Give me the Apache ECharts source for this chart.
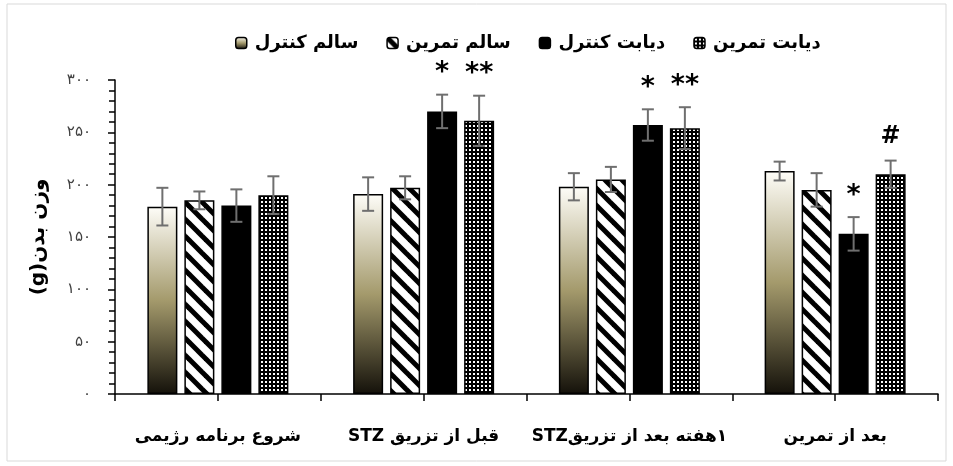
<!DOCTYPE html>
<html>
<head>
<meta charset="utf-8">
<script src="https://cdn.jsdelivr.net/npm/echarts@6/dist/echarts.min.js"></script>
<style>
  html, body { margin: 0; padding: 0; background: #fff; }
  #chart { width: 953px; height: 466px; }
</style>
</head>
<body>
<div id="chart" dir="rtl"></div>
<script>
// Body weight (g) of the four groups at each stage of the study
const categories = ['شروع برنامه رژیمی', 'قبل از تزریق STZ', '۱هفته بعد از تزریقSTZ', 'بعد از تمرین'];
const seriesNames = ['سالم کنترل', 'سالم تمرین', 'دیابت کنترل', 'دیابت تمرین'];

const healthyControl = [179, 191, 198, 213];
const healthyControlErr = [18, 16, 13, 9];
const healthyTraining = [185, 197, 205, 195];
const healthyTrainingErr = [8.5, 11, 12, 16];
const diabetesControl = [180, 270, 257, 153];
const diabetesControlErr = [15.5, 16, 15, 16];
const diabetesTraining = [190, 261, 254, 210];
const diabetesTrainingErr = [18, 24, 20, 13];

// significance marks drawn above each bar's error bar
const healthyControlMarks = ['', '', '', ''];
const healthyTrainingMarks = ['', '', '', ''];
const diabetesControlMarks = ['', '*', '*', '*'];
const diabetesTrainingMarks = ['', '**', '**', '#'];

const yTicks = ['۰', '۵۰', '۱۰۰', '۱۵۰', '۲۰۰', '۲۵۰', '۳۰۰'];

// ---- fills ----
function stripePattern() {
  const s = 17;
  const c = document.createElement('canvas');
  c.width = s; c.height = s;
  const g = c.getContext('2d');
  g.fillStyle = '#fff';
  g.fillRect(0, 0, s, s);
  g.strokeStyle = '#000';
  g.lineWidth = 5;
  for (let k = -1; k <= 1; k++) {
    g.beginPath();
    g.moveTo(-s + k * s, -s);
    g.lineTo(2 * s + k * s, 2 * s);
    g.stroke();
  }
  return c;
}
function dotPattern() {
  const c = document.createElement('canvas');
  c.width = 4; c.height = 4;
  const g = c.getContext('2d');
  g.fillStyle = '#000';
  g.fillRect(0, 0, 4, 4);
  g.fillStyle = '#fff';
  g.fillRect(1, 1, 2, 2);
  return c;
}
const fills = [
  new echarts.graphic.LinearGradient(0, 0, 0, 1, [
    { offset: 0, color: '#fefdf8' },
    { offset: 0.5, color: '#a49a6c' },
    { offset: 1, color: '#14110a' }
  ]),
  { image: stripePattern(), repeat: 'repeat' },
  '#000',
  { image: dotPattern(), repeat: 'repeat' }
];

const values = [healthyControl, healthyTraining, diabetesControl, diabetesTraining];
const errors = [healthyControlErr, healthyTrainingErr, diabetesControlErr, diabetesTrainingErr];
const marks = [healthyControlMarks, healthyTrainingMarks, diabetesControlMarks, diabetesTrainingMarks];

const BAR_W = 30;
const BAR_GAP = 7;
const FONT = '"DejaVu Sans", sans-serif';

function barCenterOffset(i, n) {
  const total = n * BAR_W + (n - 1) * BAR_GAP;
  return -total / 2 + i * (BAR_W + BAR_GAP) + BAR_W / 2;
}

const barSeries = values.map((vals, i) => ({
  name: seriesNames[i],
  type: 'bar',
  data: vals,
  barWidth: BAR_W,
  barGap: (BAR_GAP / BAR_W * 100) + '%',
  itemStyle: { color: fills[i], borderColor: '#000', borderWidth: 1.5 },
  z: 2
}));

const errData = [];
const markData = [];
values.forEach((vals, i) => {
  vals.forEach((v, j) => {
    errData.push([j, v, errors[i][j], i]);
    if (marks[i][j]) markData.push([j, v + errors[i][j], marks[i][j], i]);
  });
});

const errorSeries = {
  type: 'custom',
  data: errData,
  z: 5,
  silent: true,
  renderItem: function (params, api) {
    const cat = api.value(0), v = api.value(1), e = api.value(2), idx = api.value(3);
    const dx = barCenterOffset(idx, 4);
    const hi = api.coord([cat, v + e]);
    const lo = api.coord([cat, v - e]);
    const x = hi[0] + dx;
    const cap = 6;
    const style = { stroke: '#6f6f6f', lineWidth: 2 };
    return {
      type: 'group',
      children: [
        { type: 'line', shape: { x1: x, y1: hi[1], x2: x, y2: lo[1] }, style },
        { type: 'line', shape: { x1: x - cap, y1: hi[1], x2: x + cap, y2: hi[1] }, style },
        { type: 'line', shape: { x1: x - cap, y1: lo[1], x2: x + cap, y2: lo[1] }, style }
      ]
    };
  }
};

const markSeries = {
  type: 'custom',
  data: markData,
  z: 6,
  silent: true,
  renderItem: function (params, api) {
    const cat = api.value(0), top = api.value(1), idx = api.value(3);
    const txt = markData[params.dataIndex][2];
    const p = api.coord([cat, top]);
    const x = p[0] + barCenterOffset(idx, 4);
    const isHash = txt === '#';
    return {
      type: 'text',
      x: x,
      y: p[1] - (isHash ? 12 : 8),
      style: {
        text: txt,
        fill: '#000',
        font: 'bold ' + (isHash ? 24 : 27) + 'px ' + FONT,
        align: 'center',
        verticalAlign: 'bottom'
      }
    };
  }
};

const chart = echarts.init(document.getElementById('chart'), null, { renderer: 'canvas' });
chart.setOption({
  animation: false,
  backgroundColor: '#fff',
  graphic: [{
    type: 'rect',
    shape: { x: 7, y: 4, width: 939, height: 457 },
    style: { fill: 'none', stroke: '#d9d9d9', lineWidth: 1 },
    silent: true, z: -1
  }],
  legend: {
    top: 29,
    left: 230,
    itemWidth: 11,
    itemHeight: 11,
    itemGap: 28,
    textStyle: { fontFamily: FONT, fontWeight: 'bold', fontSize: 18, color: '#000', padding: [0, 0, 0, 3] },
    data: seriesNames.map(n => ({ name: n, itemStyle: { borderColor: '#000', borderWidth: 1.5 } }))
  },
  grid: { left: 115, right: 15, top: 80, bottom: 72, containLabel: false },
  xAxis: [{
    type: 'category',
    data: categories,
    axisLine: { lineStyle: { color: '#000', width: 1.5 } },
    axisTick: { show: true, length: 7, lineStyle: { color: '#000', width: 1.5 } },
    axisLabel: { interval: 0, fontFamily: FONT, fontWeight: 'bold', fontSize: 17, color: '#000', margin: 34 }
  }, {
    type: 'category',
    data: categories,
    position: 'bottom',
    axisLine: { show: false },
    axisTick: { show: true, alignWithLabel: true, length: 7, lineStyle: { color: '#000', width: 1.5 } },
    axisLabel: { show: false }
  }],
  yAxis: {
    type: 'value',
    min: 0, max: 300, interval: 50,
    name: 'وزن بدن(g)',
    nameLocation: 'middle',
    nameGap: 66,
    nameTextStyle: { fontFamily: FONT, fontWeight: 'bold', fontSize: 20, color: '#000' },
    axisLine: { show: true, lineStyle: { color: '#000', width: 1.5 } },
    axisTick: { show: true, length: 7, lineStyle: { color: '#000', width: 1.5 } },
    minorTick: { show: true, splitNumber: 5, length: 6, lineStyle: { color: '#000', width: 1.5 } },
    splitLine: { show: false },
    axisLabel: {
      margin: 24,
      fontFamily: FONT, fontSize: 15, color: '#404040',
      formatter: v => yTicks[Math.round(v / 50)]
    }
  },
  series: [...barSeries, errorSeries, markSeries]
});
</script>
</body>
</html>
